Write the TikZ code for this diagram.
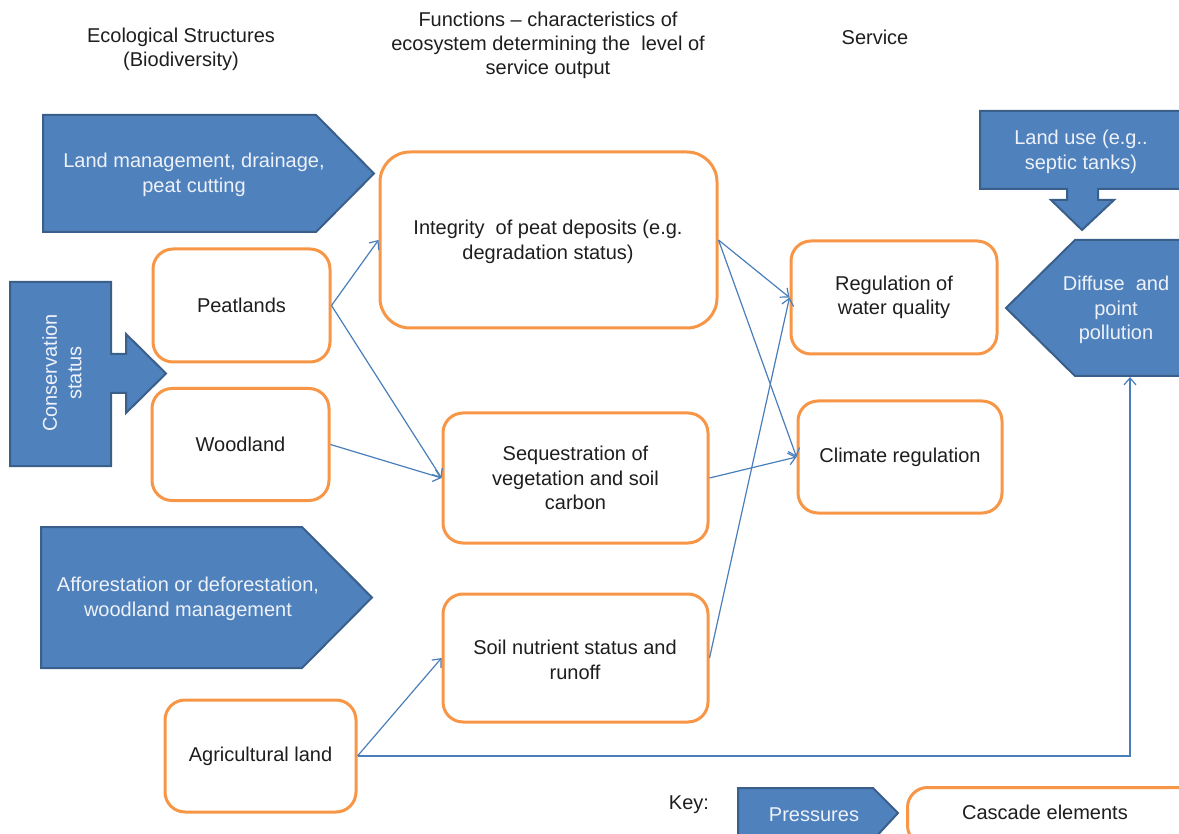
\documentclass[tikz,border=0pt]{standalone}
\usepackage{fontspec}
\setmainfont{Liberation Sans}
\usetikzlibrary{arrows.meta}
\definecolor{pblue}{HTML}{4F81BD}
\definecolor{pborder}{HTML}{3A5F8B}
\definecolor{corange}{HTML}{F79646}
\definecolor{lblue}{HTML}{4A7EBB}
\definecolor{txt}{HTML}{1E1E1E}
\definecolor{ptxt}{HTML}{EEF2F8}
\tikzset{
  press/.style={fill=pblue, draw=pborder, line width=2pt, line join=miter},
  ptext/.style={text=ptxt, align=center, font=\fontsize{20}{24.5}\selectfont, inner sep=0pt},
  casc/.style={draw=corange, fill=white, line width=3pt, rounded corners=20pt, align=center,
    text=txt, font=\fontsize{20}{24.5}\selectfont, inner sep=0pt},
  head/.style={text=txt, align=center, font=\fontsize{20}{24}\selectfont, inner sep=0pt},
  conn/.style={draw=lblue, line width=1.2pt, -{Straight Barb[length=7pt,width=12pt,line width=1.2pt]}},
}
\begin{document}
\begin{tikzpicture}[x=1pt,y=-1pt]
\useasboundingbox (0,0) rectangle (1179,834);
\clip (0,0) rectangle (1179,834);
% headers
\node[head] (h1) at (181,49) {Ecological Structures\\(Biodiversity)};
\node[head] (h2) at (548,45) {Functions -- characteristics of\\ecosystem determining the\ \ level of\\service output};
\node[head] (h3) at (875,37) {Service};
% pressures
\draw[press] (43,115) -- (316,115) -- (374,173.5) -- (316,232) -- (43,232) -- cycle;
\node[ptext] (p1) at (194,175) {Land management, drainage,\\peat cutting};
\draw[press] (10,282) -- (111,282) -- (111,354) -- (126,354) -- (126,334) -- (166,373.5) -- (126,413) -- (126,393) -- (111,393) -- (111,466) -- (10,466) -- cycle;
\node[ptext, rotate=90] (p2) at (62,373) {Conservation\\status};
\draw[press] (41,527) -- (302,527) -- (372,597.5) -- (302,668) -- (41,668) -- cycle;
\node[ptext] (p3) at (188,599) {Afforestation or deforestation,\\woodland management};
\draw[press] (980,111) -- (1190,111) -- (1190,189) -- (1098,189) -- (1098,200) -- (1114,200) -- (1082,230) -- (1051,200) -- (1067,200) -- (1067,189) -- (980,189) -- cycle;
\node[ptext] (p4) at (1081,152) {Land use (e.g..\\septic tanks)};
\draw[press] (1006,308) -- (1075,240) -- (1190,240) -- (1190,376) -- (1075,376) -- cycle;
\node[ptext] (p5) at (1116,310) {Diffuse\ \ and\\point\\pollution};
\coordinate (p5b) at (1130,377);
% cascade elements
\node[casc, minimum width=177pt, minimum height=113pt] (peat) at (241.5,305.5) {Peatlands};
\node[casc, minimum width=177pt, minimum height=112pt] (wood) at (240.5,444.5) {Woodland};
\node[casc, minimum width=191pt, minimum height=112pt] (agri) at (260.5,756) {Agricultural land};
\node[casc, minimum width=337pt, minimum height=176pt, rounded corners=30pt] (integ) at (548.5,240) {};
\node[ptext, text=txt] (integt) at (548,242) {Integrity\ \ of peat deposits (e.g.\\degradation status)};
\node[casc, minimum width=265pt, minimum height=130pt] (seq) at (575.5,478) {Sequestration of\\vegetation and soil\\carbon};
\node[casc, minimum width=265pt, minimum height=128pt] (soil) at (575.5,658) {};
\node[ptext, text=txt] (soilt) at (575,660) {Soil nutrient status and\\runoff};
\node[casc, minimum width=206pt, minimum height=113pt] (water) at (894,297.5) {Regulation of\\water quality};
\node[casc, minimum width=204pt, minimum height=112pt] (clim) at (900,457) {Climate regulation};
% key
\node[text=txt, font=\fontsize{20}{24}\selectfont, inner sep=0pt] (key) at (689,805) {Key:};
\draw[press] (738,788) -- (873,788) -- (898,813) -- (873,840) -- (738,840) -- cycle;
\node[ptext] (kp) at (814,815) {Pressures};
\node[casc, minimum width=300pt, minimum height=58pt, anchor=north west] (kc) at (906,786) {};
\node[ptext, text=txt] (kct) at (1045,812) {Cascade elements};
% connectors
\draw[conn] (peat.east) -- (integ.west);
\draw[conn] (peat.east) -- (seq.west);
\draw[conn] (wood.east) -- (seq.west);
\draw[conn] (integ.east) -- (water.west);
\draw[conn] (integ.east) -- (clim.west);
\draw[conn] (seq.east) -- (clim.west);
\draw[conn] (soil.east) -- (water.west);
\draw[conn] (agri.east) -- (soil.west);
\draw[conn] (agri.east) -| (p5b);
\end{tikzpicture}
\end{document}
